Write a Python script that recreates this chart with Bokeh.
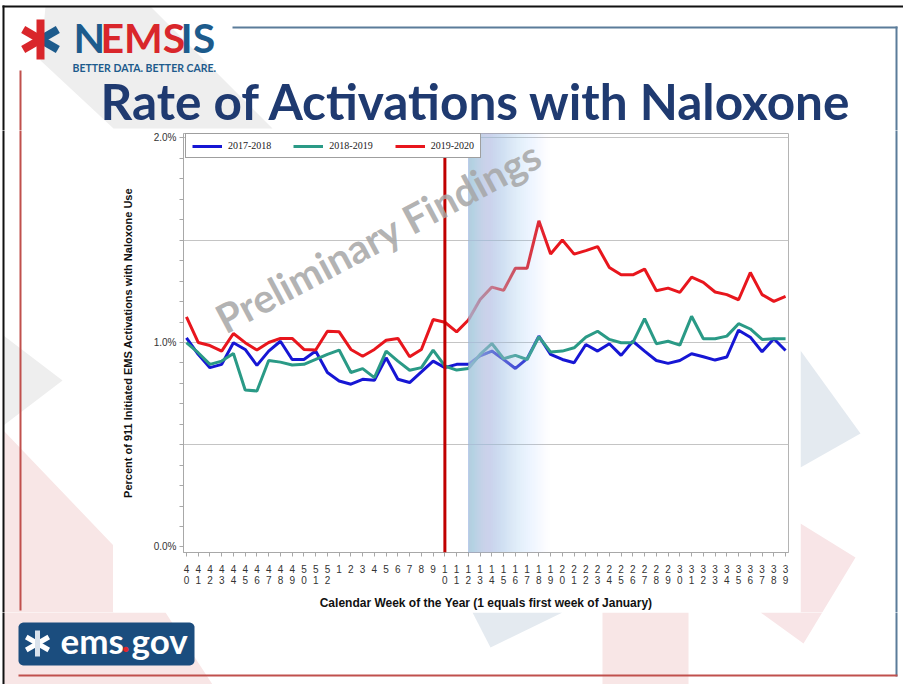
import math
from bokeh.plotting import figure
from bokeh.layouts import column, row
from bokeh.models import FixedTicker, PrintfTickFormatter, Span, Label, Range1d
from bokeh.core.properties import value
from bokeh.embed import file_html
from bokeh.resources import INLINE

# ---------------- data ----------------
week_labels = [40, 41, 42, 43, 44, 45, 46, 47, 48, 49, 50, 51, 52,
               1, 2, 3, 4, 5, 6, 7, 8, 9, 10, 11, 12, 13, 14, 15, 16, 17, 18, 19,
               20, 21, 22, 23, 24, 25, 26, 27, 28, 29, 30, 31, 32, 33, 34, 35, 36, 37, 38, 39]

rate_2017_2018 = [1.023, 0.942, 0.877, 0.893, 0.999, 0.966, 0.888, 0.958, 1.006, 0.917,
                  0.917, 0.958, 0.853, 0.812, 0.796, 0.820, 0.815, 0.925, 0.820, 0.804,
                  0.856, 0.909, 0.877, 0.893, 0.893, 0.935, 0.958, 0.917, 0.873, 0.921,
                  1.031, 0.942, 0.917, 0.901, 0.990, 0.958, 0.994, 0.937, 1.006, 0.958,
                  0.912, 0.898, 0.912, 0.945, 0.930, 0.914, 0.929, 1.060, 1.026, 0.955,
                  1.018, 0.961]

rate_2018_2019 = [0.999, 0.950, 0.893, 0.909, 0.946, 0.768, 0.763, 0.912, 0.904, 0.890,
                  0.893, 0.917, 0.942, 0.963, 0.853, 0.872, 0.828, 0.958, 0.909, 0.864,
                  0.877, 0.963, 0.885, 0.865, 0.873, 0.942, 0.995, 0.921, 0.937, 0.917,
                  1.028, 0.953, 0.958, 0.974, 1.026, 1.055, 1.015, 0.999, 0.999, 1.117,
                  0.994, 1.006, 0.987, 1.128, 1.018, 1.018, 1.031, 1.092, 1.066, 1.015,
                  1.018, 1.018]

rate_2019_2020 = [1.125, 1.000, 0.985, 0.958, 1.044, 0.999, 0.963, 1.000, 1.020, 1.020,
                  0.966, 0.963, 1.055, 1.052, 0.966, 0.933, 0.966, 1.011, 1.020, 0.930,
                  0.966, 1.112, 1.099, 1.052, 1.110, 1.210, 1.271, 1.255, 1.363, 1.363,
                  1.595, 1.433, 1.501, 1.432, 1.449, 1.469, 1.367, 1.331, 1.331, 1.359,
                  1.253, 1.266, 1.245, 1.320, 1.294, 1.247, 1.234, 1.209, 1.342, 1.234,
                  1.201, 1.225]

series_names = ["2017-2018", "2018-2019", "2019-2020"]
y_label_ticks = [0.0, 1.0, 2.0]
y_minor_ticks = [0.1, 0.2, 0.3, 0.4, 0.5, 0.6, 0.7, 0.8, 0.9,
                 1.1, 1.2, 1.3, 1.4, 1.5, 1.6, 1.7, 1.8, 1.9]
y_grid_ticks = [0.5, 1.0, 1.5, 2.0]
marker_week = 10        # red vertical line
shade_start_week = 12   # start of shaded (preliminary) period
shade_end_week = 19

slide_title = "Rate of Activations with Naloxone"

# ---------------- page layout (pixels) ----------------
PW, PH = 903, 684
CX0, CX1, CY0, CY1 = 113, 800, 130, 612          # chart picture region
FX0, FX1, FY0, FY1 = 183, 788, 133, 554          # plot frame
Y0, Y1 = -0.027, 2.022
BASE_SHIFT = 0.37                                # text baseline correction (em)

# ---------------- slide decorations ----------------
def rect_pts(x0, y0, x1, y1):
    return [(x0, y0), (x1, y0), (x1, y1), (x0, y1)]


def rounded_pts(x0, y0, x1, y1, r, k=6):
    pts = []
    for cx, cy, a0 in [(x1 - r, y0 + r, -90), (x1 - r, y1 - r, 0), (x0 + r, y1 - r, 90), (x0 + r, y0 + r, 180)]:
        for i in range(k + 1):
            a = math.radians(a0 + 90 * i / k)
            pts.append((cx + r * math.cos(a), cy + r * math.sin(a)))
    return pts


def star_parts(cx, cy, L, w, left_col, right_col, mid_col):
    parts = []
    for ang, col in [(150, left_col), (210, left_col), (30, right_col), (-30, right_col)]:
        a = math.radians(ang)
        dx, dy = math.cos(a), -math.sin(a)
        nx, ny = -dy, dx
        parts.append(([(cx + nx * w / 2, cy + ny * w / 2),
                       (cx + dx * L + nx * w / 2, cy + dy * L + ny * w / 2),
                       (cx + dx * L - nx * w / 2, cy + dy * L - ny * w / 2),
                       (cx - nx * w / 2, cy - ny * w / 2)], col))
    parts.append((rect_pts(cx - w / 2, cy - L, cx + w / 2, cy + L), mid_col))
    return parts


shapes = [
    ([(45, 6), (150, 6), (272, 128), (113, 128), (40, 60)], "#eeeeee"),
    ([(3, 335), (62, 380), (3, 425)], "#eeeeee"),
    ([(3, 430), (113, 545), (113, 612), (165, 612), (212, 684), (3, 684)], "#f8e6e6"),
    ([(800, 350), (860, 433), (800, 467)], "#e4eaf0"),
    ([(800, 523), (855, 557), (803, 643), (760, 612), (800, 612)], "#f8e5e7"),
    ([(472, 612), (562, 612), (490, 647)], "#e4eaf0"),
    (rect_pts(602, 612, 688, 684), "#f8e6e6"),
    # slide lines
    (rect_pts(232, 26, 897, 28), "#5b7c9a"),
    (rect_pts(895, 26, 897, 676), "#5b7c9a"),
    (rect_pts(19, 70, 21, 610), "#c0504d"),
    (rect_pts(18, 674, 897, 676), "#c0504d"),
    (rect_pts(2, 5, 903, 7), "#111111"),
    (rect_pts(2, 5, 4, 684), "#111111"),
    # ems.gov badge
    (rounded_pts(18, 622, 194, 665, 5), "#1b4d7e"),
]
shapes += star_parts(40, 39, 20, 8, "#d9262b", "#1d5b8c", "#d9262b")
shapes += star_parts(37, 643, 13, 5, "white", "white", "#d9e2ec")

texts = [  # x, y(baseline), text, size, colour
    (73, 52, "N", 41, "#1d5b8c"),
    (100, 52, "EMS", 41, "#d9262b"),
    (180, 52, "IS", 41, "#1d5b8c"),
    (72, 71, "BETTER DATA. BETTER CARE.", 10.5, "#1d5b8c"),
    (100, 119, slide_title, 49.5, "#1f3a70"),
    (60, 652, "ems", 35, "white"),
    (121, 652, ".", 35, "#e0262b"),
    (131, 652, "gov", 35, "white"),
]


def deco_fig(x0, x1, y0, y1):
    f = figure(width=x1 - x0, height=y1 - y0, x_range=Range1d(x0, x1), y_range=Range1d(y1, y0),
               output_backend="svg", toolbar_location=None, min_border=0,
               x_axis_location=None, y_axis_location=None, frame_align=False)
    f.grid.visible = False
    f.outline_line_color = None
    f.background_fill_color = "white"
    f.border_fill_color = "white"
    for pts, col in shapes:
        xs, ys = zip(*pts)
        f.patch(list(xs), list(ys), fill_color=col, line_color=None)
    for tx, ty, t, size, col in texts:
        if not (x0 <= tx < x1 and y0 <= ty < y1):
            continue
        f.text(x=[tx], y=[ty - BASE_SHIFT * size], text=[t], text_font=value("Lato"),
               text_font_size=value(f"{size}px"), text_font_style="bold", text_color=col,
               text_baseline="alphabetic", text_align="left")
    return f


top = deco_fig(0, PW, 0, CY0)
left = deco_fig(0, CX0, CY0, CY1)
right = deco_fig(CX1, PW, CY0, CY1)
bottom = deco_fig(0, PW, CY1, PH)

# ---------------- chart ----------------
x = list(range(len(week_labels)))
marker_x = week_labels.index(marker_week, 13)
shade_x0 = week_labels.index(shade_start_week, 13)
shade_x1 = week_labels.index(shade_end_week, 13)

p = figure(width=CX1 - CX0, height=CY1 - CY0, x_range=(-0.25, len(x) - 0.75), y_range=(Y0, Y1),
           output_backend="svg", toolbar_location=None, frame_align=False,
           min_border_left=FX0 - CX0, min_border_right=CX1 - FX1,
           min_border_top=FY0 - CY0, min_border_bottom=CY1 - FY1)
p.background_fill_color = "white"
p.border_fill_color = "white"
p.outline_line_color = "#b4b4b4"
p.outline_line_width = 1

colors = ["#1616d4", "#2a9a86", "#e8161d"]
for ys, name, c in zip([rate_2017_2018, rate_2018_2019, rate_2019_2020], series_names, colors):
    p.line(x, ys, line_color=c, line_width=3, legend_label=name)

# shaded preliminary period: nested quads giving a smooth left-to-right fade
n = 40
dx = (shade_x1 - shade_x0) / n
target = [0.82 * (1 - (k + 0.5) / n) for k in range(n)]
alphas = []
for k in range(n):
    nxt = target[k + 1] if k + 1 < n else 0.0
    alphas.append(1 - (1 - target[k]) / (1 - nxt))
p.quad(left=[shade_x0] * n, right=[shade_x0 + (k + 1) * dx for k in range(n)],
       bottom=Y0, top=Y1, fill_color="#b4c9ec", fill_alpha=alphas, line_color=None, level="overlay")

p.add_layout(Span(location=marker_x, dimension="height", line_color="#c00000",
                  line_width=3, level="overlay"))

# watermark
p.add_layout(Label(x=378 - FX0, y=FY1 - 238, x_units="screen", y_units="screen",
                   text="Preliminary Findings", text_font="Lato", text_font_size="40px",
                   text_font_style="bold", text_color="#a6a6a6", text_alpha=0.85,
                   text_align="center", text_baseline="middle", angle=28, angle_units="deg",
                   level="overlay"))

# axes
xa = p.xaxis[0]
xa.ticker = FixedTicker(ticks=x)
xa.major_label_overrides = {i: "\n".join(str(w)) for i, w in enumerate(week_labels)}
xa.major_label_text_font = "Liberation Sans"
xa.major_label_text_font_size = "10px"
xa.major_label_text_color = "#333333"
xa.major_label_text_line_height = 1.0
xa.major_label_standoff = 7
xa.major_tick_out = 4
xa.major_tick_in = 0
xa.minor_tick_line_color = None
xa.axis_line_color = "#a8a8a8"
xa.major_tick_line_color = "#a8a8a8"
xa.axis_label = "Calendar Week of the Year (1 equals first week of January)"
xa.axis_label_text_font = "Liberation Sans"
xa.axis_label_text_font_size = "12px"
xa.axis_label_text_font_style = "bold"
xa.axis_label_text_color = "#111111"
xa.axis_label_standoff = 7

ya = p.yaxis[0]
ya.ticker = FixedTicker(ticks=y_label_ticks, minor_ticks=y_minor_ticks)
ya.formatter = PrintfTickFormatter(format="%.1f%%")
ya.major_label_text_font = "Liberation Sans"
ya.major_label_text_font_size = "10px"
ya.major_label_text_color = "#333333"
ya.major_label_standoff = 3
ya.major_tick_out = 4
ya.major_tick_in = 0
ya.minor_tick_out = 4
ya.minor_tick_in = 0
ya.axis_line_color = "#a8a8a8"
ya.major_tick_line_color = "#a8a8a8"
ya.minor_tick_line_color = "#a8a8a8"
ya.axis_label = "Percent of 911 Initiated EMS Activations with Naloxone Use"
ya.axis_label_text_font = "Liberation Sans"
ya.axis_label_text_font_size = "11px"
ya.axis_label_text_font_style = "bold"
ya.axis_label_text_color = "#111111"
ya.axis_label_standoff = 17

p.xgrid.grid_line_color = None
p.ygrid.ticker = FixedTicker(ticks=y_grid_ticks)
p.ygrid.grid_line_color = "#c4c4c4"
p.ygrid.grid_line_width = 1

lg = p.legend[0]
lg.location = (2, (FY1 - FY0) - 22 - 5)
lg.margin = 0
lg.orientation = "horizontal"
lg.padding = 6
lg.spacing = 22
lg.glyph_width = 30
lg.glyph_height = 10
lg.label_height = 10
lg.label_standoff = 6
lg.label_text_font = "Liberation Serif"
lg.label_text_font_size = "10px"
lg.label_text_color = "#222222"
lg.border_line_color = "#404040"
lg.border_line_width = 1
lg.background_fill_alpha = 1.0

page = column(top, row(left, p, right, spacing=0), bottom, spacing=0)
open("out.html", "w").write(file_html(page, INLINE))
